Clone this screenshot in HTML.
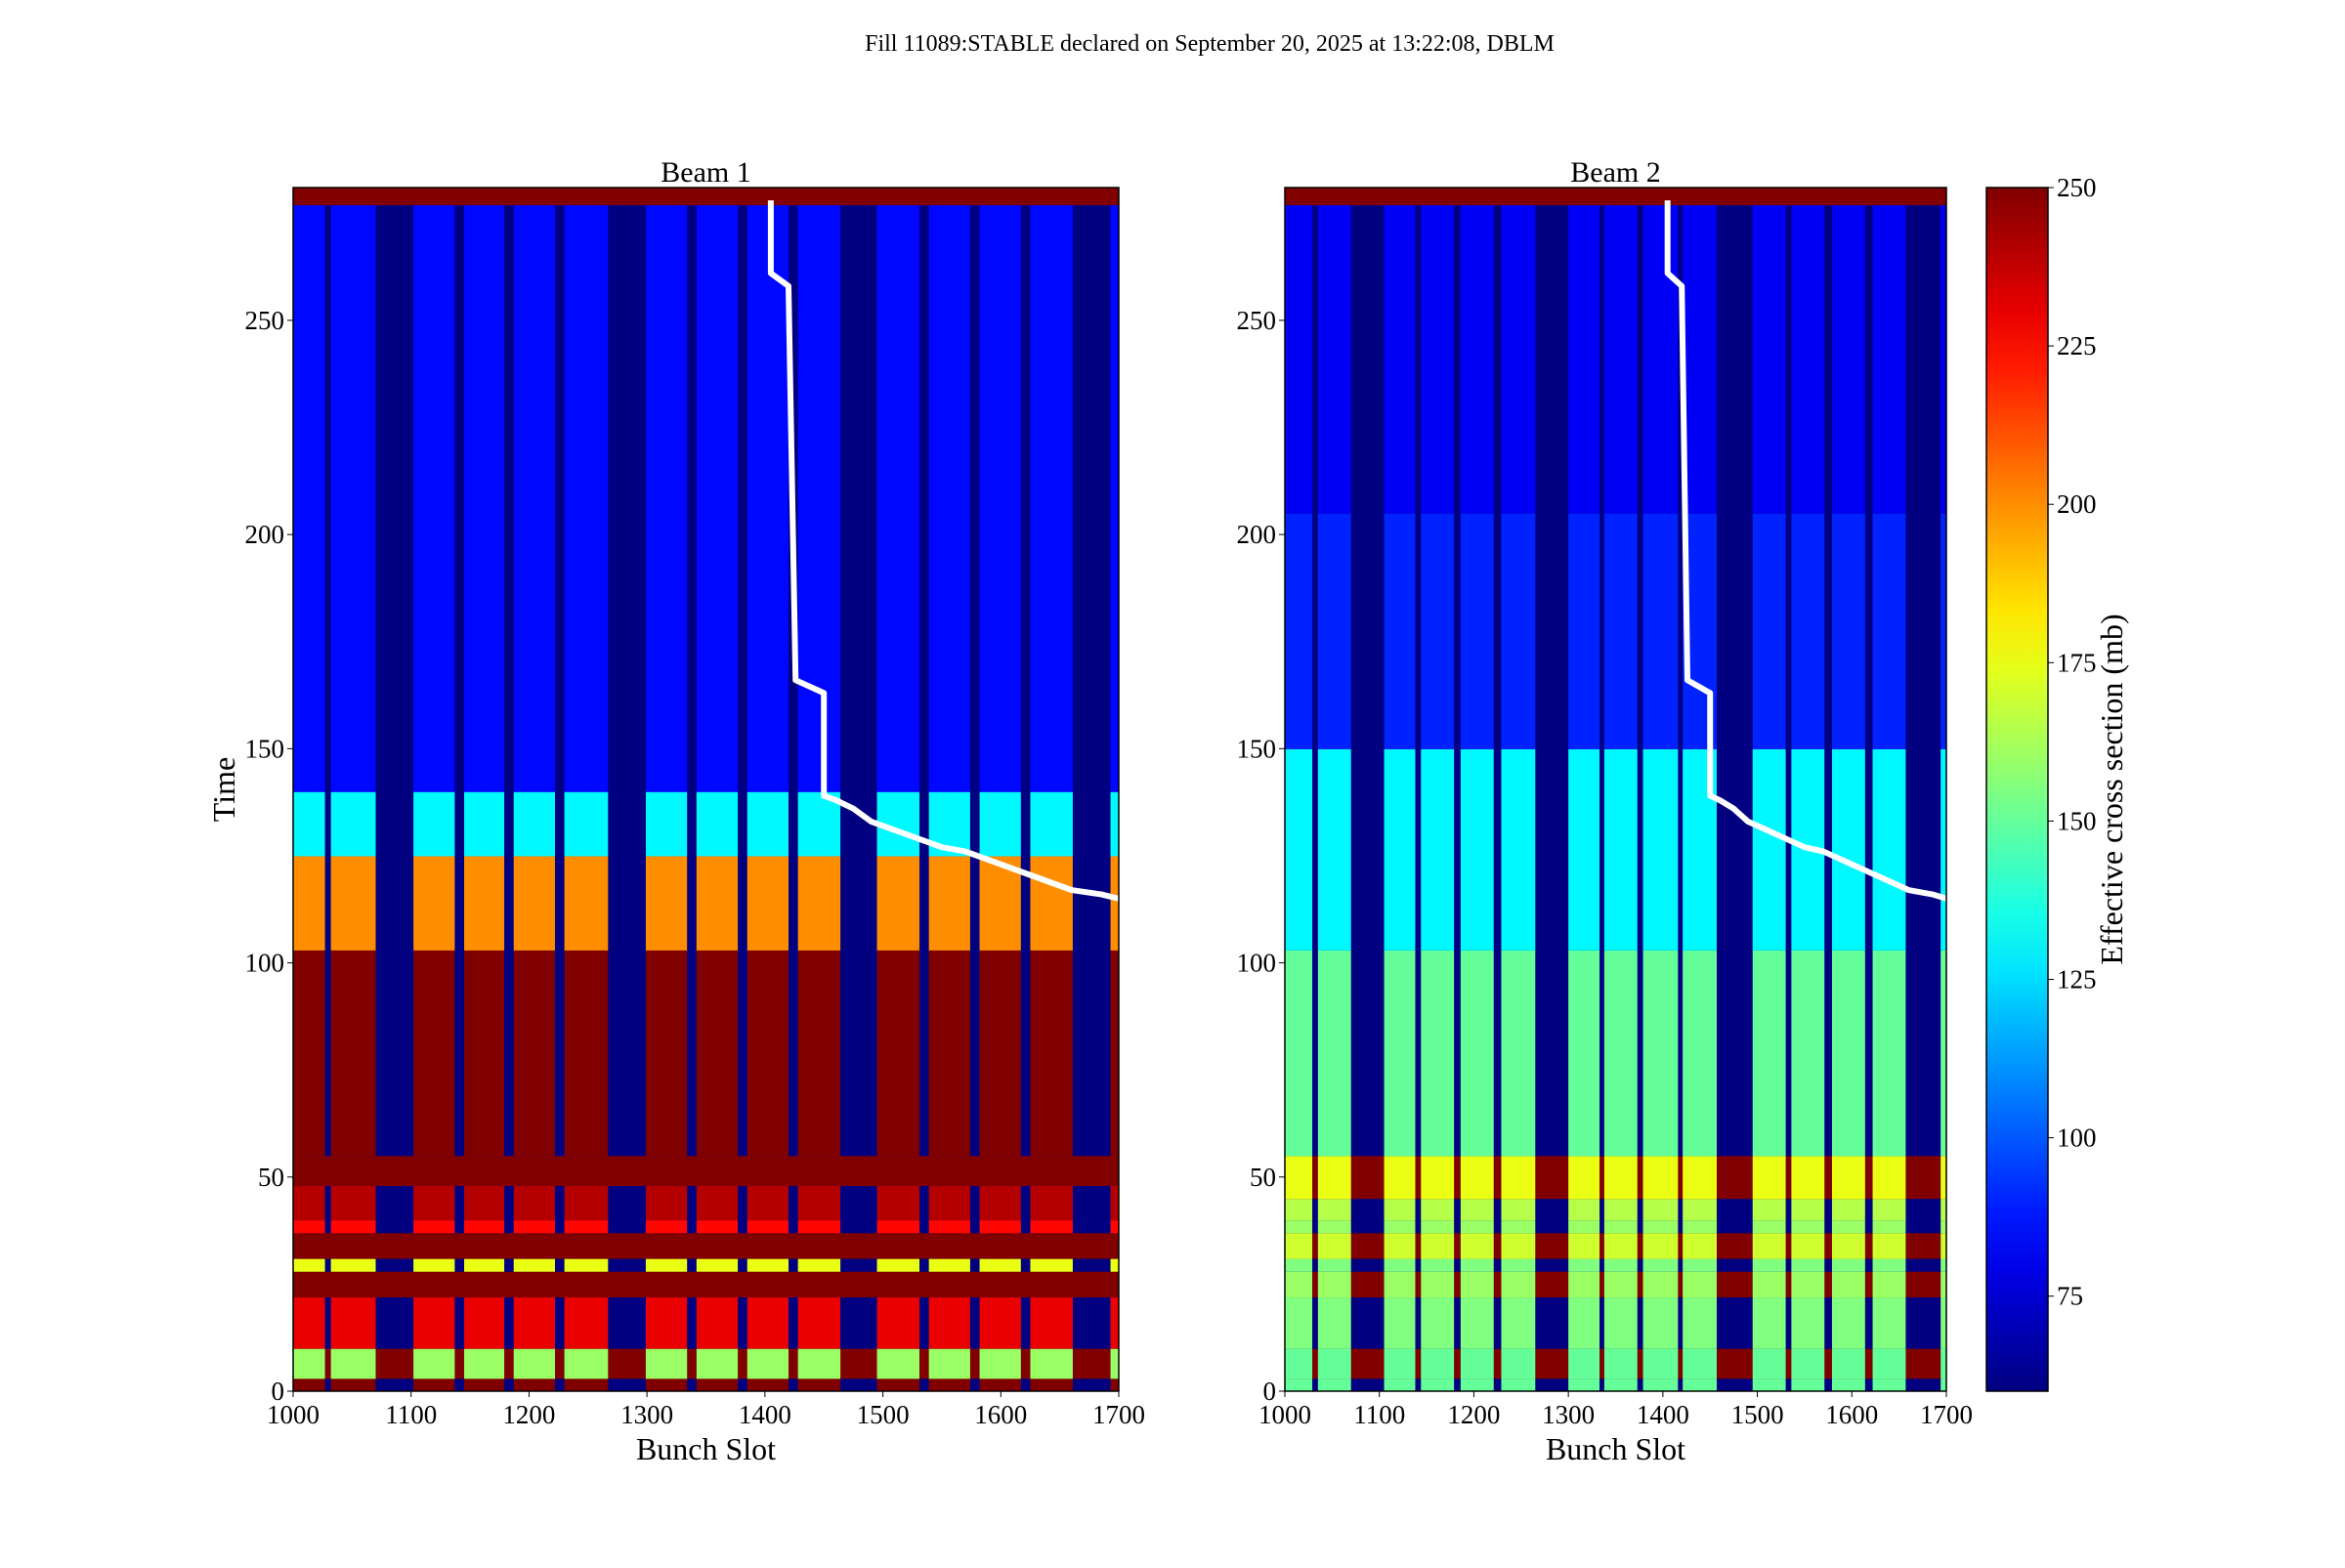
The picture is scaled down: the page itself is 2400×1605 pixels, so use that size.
<!DOCTYPE html>
<html><head><meta charset="utf-8"><style>
body{margin:0;background:#fff}
svg text{font-family:"Liberation Serif",serif;fill:#000}
</style></head><body>
<svg id="c" width="2400" height="1600" viewBox="0 0 2400 1600" xmlns="http://www.w3.org/2000/svg">
<text x="1238" y="52" font-size="24" text-anchor="middle">Fill 11089:STABLE declared on September 20, 2025 at 13:22:08, DBLM</text>
<g id="g1"></g>
<g id="g2"></g>
<g id="cb"></g>
</svg>
<script>
// ---- data ----
const xTicks = [1000,1100,1200,1300,1400,1500,1600,1700];
const yTicks = [0,50,100,150,200,250];
const cbTicks = [75,100,125,150,175,200,225,250];
const b1TrainStart = [1000,1032,1102,1145,1187,1230,1299,1342,1385,1428,1495,1539,1582,1625,1693];
const b1TrainEnd   = [1027,1070,1137,1179,1222,1267,1334,1377,1420,1464,1531,1574,1617,1661,1700];
const b1Edges = [0,3,10,22,28,31,37,40,48,55,103,125,140,277,281];
const b1TrainVals = [250,160,230,250,175,250,225,240,250,250,200,130,85,250];
const b1GapVals   = [60,250,60,250,60,250,60,60,250,60,60,60,60,250];
const b2TrainStart = [1000,1035,1105,1144,1186,1229,1300,1338,1379,1421,1495,1536,1579,1622,1694];
const b2TrainEnd   = [1029,1070,1138,1179,1221,1265,1333,1373,1416,1457,1530,1571,1614,1657,1700];
const b2Edges = [0,3,10,22,28,31,37,40,45,55,103,150,205,277,281];
const b2TrainVals = [150,150,155,160,155,170,160,165,175,150,130,90,82,250];
const b2GapVals   = [60,250,60,250,60,250,60,60,250,60,60,60,60,250];
const lineSlots = [1405,1405,1420,1420,1426,1450,1450,1460,1475,1490,1510,1530,1550,1570,1600,1630,1660,1685,1700];
const lineTimes = [278,261,258,258,166,163,139,138,136,133,131,129,127,126,123,120,117,116,115];
// ---- rendering ----
const NS="http://www.w3.org/2000/svg";
const VMIN=60,VMAX=250,TMAX=281;
function jet(v){let t=(v-VMIN)/(VMAX-VMIN);t=Math.max(0,Math.min(1,t));
 const f=x=>Math.round(255*Math.max(0,Math.min(1,1.5-Math.abs(4*t-x))));
 return `rgb(${f(3)},${f(2)},${f(1)})`;}
function mk(p,tag,a){const e=document.createElementNS(NS,tag);for(const k in a)e.setAttribute(k,a[k]);p.appendChild(e);return e;}
function panel(g,L,R,T,B,starts,ends,edges,tv,gv,title,nm,showY){
 const sx=s=>L+(s-1000)/700*(R-L), sy=t=>B-t/TMAX*(B-T);
 for(let i=0;i<edges.length-1;i++){
  const r=mk(g,'rect',{x:L,y:sy(edges[i+1]),width:R-L,height:sy(edges[i])-sy(edges[i+1])+0.5,fill:jet(gv[i])});
  
  
  for(let j=0;j<starts.length;j++){
   const c=mk(g,'rect',{x:sx(starts[j]),y:sy(edges[i+1]),width:sx(ends[j])-sx(starts[j]),height:sy(edges[i])-sy(edges[i+1])+0.5,fill:jet(tv[i])});
   
   
  }
 }
 const pl=mk(g,'polyline',{points:lineSlots.map((s,i)=>sx(s)+','+sy(lineTimes[i])).join(' '),fill:'none',stroke:'#fff','stroke-width':6,'stroke-linejoin':'round'});
 
 
 const fr=mk(g,'rect',{x:L,y:T,width:R-L,height:B-T,fill:'none',stroke:'#000','stroke-width':1.5});
 
 
 xTicks.forEach(v=>{mk(g,'line',{x1:sx(v),x2:sx(v),y1:B,y2:B+6,stroke:'#000'});
  const t=mk(g,'text',{x:sx(v),y:B+33,'font-size':27,'text-anchor':'middle'});t.textContent=v;
  
  });
 yTicks.forEach(v=>{mk(g,'line',{x1:L-6,x2:L,y1:sy(v),y2:sy(v),stroke:'#000'});
  const t=mk(g,'text',{x:L-9,y:sy(v)+9,'font-size':27,'text-anchor':'end'});t.textContent=v;
  
  });
 const tt=mk(g,'text',{x:(L+R)/2,y:T-6,'font-size':30,'text-anchor':'middle'});tt.textContent=title;
 
 
 const xl=mk(g,'text',{x:(L+R)/2,y:B+70,'font-size':32,'text-anchor':'middle'});xl.textContent='Bunch Slot';
 
 
 if(showY){const yl=mk(g,'text',{x:0,y:0,'font-size':32,'text-anchor':'middle',transform:`translate(240,${(T+B)/2}) rotate(-90)`});yl.textContent='Time';
  
  }
}
panel(document.getElementById('g1'),300,1145,192,1424,b1TrainStart,b1TrainEnd,b1Edges,b1TrainVals,b1GapVals,'Beam 1','beam1',true);
panel(document.getElementById('g2'),1315,1992,192,1424,b2TrainStart,b2TrainEnd,b2Edges,b2TrainVals,b2GapVals,'Beam 2','beam2',false);
// colorbar
const cb=document.getElementById('cb');const CL=2033,CR=2096,CT=192,CB=1424;
const gd=mk(cb,'defs',{});const lg=mk(gd,'linearGradient',{id:'jg',x1:0,y1:1,x2:0,y2:0});
for(let i=0;i<=20;i++){mk(lg,'stop',{offset:i/20,'stop-color':jet(VMIN+(VMAX-VMIN)*i/20)});}
mk(cb,'rect',{x:CL,y:CT,width:CR-CL,height:CB-CT,fill:'url(#jg)',stroke:'#000','stroke-width':1.5});
const cy=v=>CB-(v-VMIN)/(VMAX-VMIN)*(CB-CT);
cbTicks.forEach(v=>{mk(cb,'line',{x1:CR,x2:CR+6,y1:cy(v),y2:cy(v),stroke:'#000'});
 const t=mk(cb,'text',{x:CR+9,y:cy(v)+9,'font-size':27});t.textContent=v;
 
 });
const cl=mk(cb,'text',{x:0,y:0,'font-size':32,'text-anchor':'middle',transform:`translate(2172,${(CT+CB)/2}) rotate(-90)`});cl.textContent='Effective cross section (mb)';


</script>
</body></html>
